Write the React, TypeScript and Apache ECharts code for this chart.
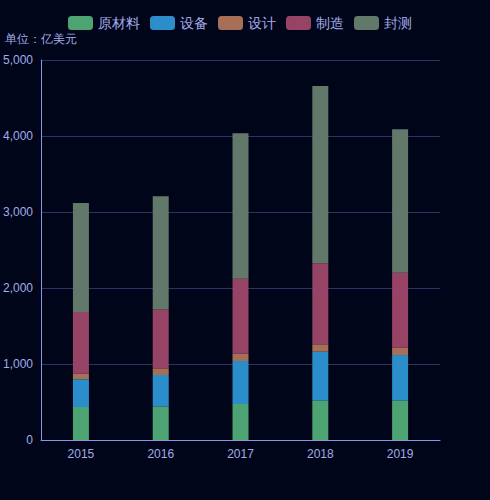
import React, { useEffect, useRef } from "react";
import * as echarts from "echarts";

const years = ["2015", "2016", "2017", "2018", "2019"];
const seriesNames = ["原材料", "设备", "设计", "制造", "封测"];
const rawMaterials = [434, 443, 474, 522, 522];
const equipment = [365, 412, 565, 640, 596];
const design = [74, 88, 97, 97, 97];
const manufacturing = [811, 776, 987, 1066, 987];
const packaging = [1434, 1487, 1912, 2333, 1886];
const colors = ["#4ea372", "#2b8ecb", "#a76f56", "#974365", "#62786b"];

export default function App() {
  const ref = useRef<HTMLDivElement>(null);
  useEffect(() => {
    if (!ref.current) return;
    const chart = echarts.init(ref.current, null, { renderer: "svg" });
    const values = [rawMaterials, equipment, design, manufacturing, packaging];
    chart.setOption({
      animation: false,
      backgroundColor: "#000519",
      color: colors,
      legend: {
        left: 63,
        top: 11,
        itemWidth: 25,
        itemHeight: 14,
        itemGap: 10,
        textStyle: { color: "#a3abe8", fontSize: 14 },
        data: seriesNames,
      },
      grid: { left: 40, right: 50, top: 60, bottom: 60, containLabel: false },
      xAxis: {
        type: "category",
        data: years,
        axisLine: { lineStyle: { color: "#8a95e8" } },
        axisTick: { show: false },
        axisLabel: { color: "#a3abe8", fontSize: 12 },
      },
      yAxis: {
        type: "value",
        name: "单位：亿美元",
        nameTextStyle: { color: "#a3abe8", fontSize: 12 },
        min: 0,
        max: 5000,
        interval: 1000,
        axisLine: { show: true, lineStyle: { color: "#8a95e8" } },
        axisTick: { show: false },
        axisLabel: { color: "#a3abe8", fontSize: 12 },
        splitLine: { lineStyle: { color: "#2e3163" } },
      },
      series: seriesNames.map((name, i) => ({
        name,
        type: "bar",
        stack: "total",
        barWidth: 16,
        data: values[i],
        itemStyle: { color: colors[i] },
      })),
    });
    return () => chart.dispose();
  }, []);
  return (
    <div
      ref={ref}
      style={{ position: "fixed", left: 0, top: 0, width: 490, height: 500 }}
    />
  );
}
